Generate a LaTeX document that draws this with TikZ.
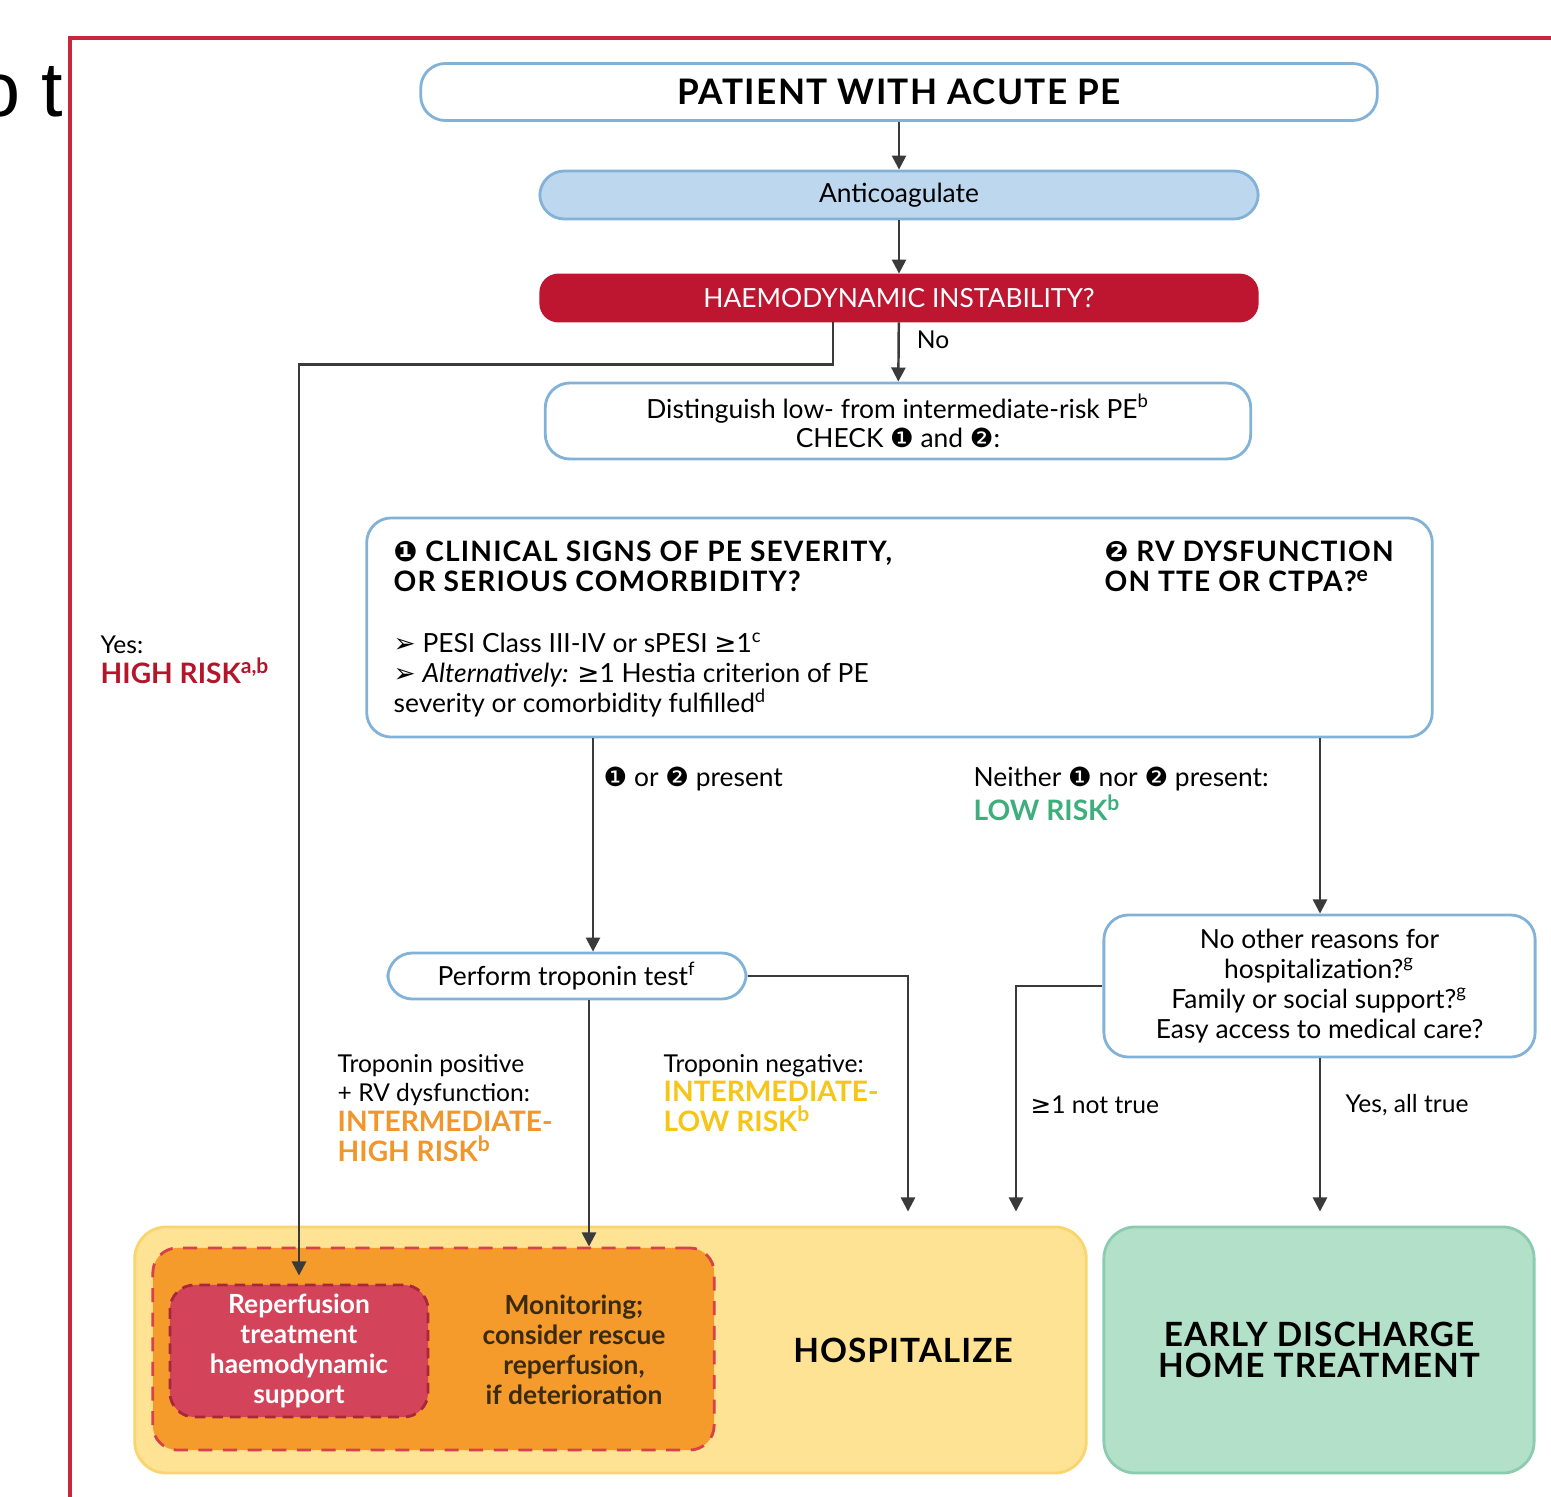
\documentclass[tikz,border=0pt]{standalone}
\usepackage{fontspec}
\setmainfont{Lato}
\newfontfamily\symfont{DejaVu Sans}
\newfontfamily\shotfont{Liberation Sans}
\usetikzlibrary{arrows.meta,positioning}

\definecolor{framered}{HTML}{C8283C}
\definecolor{boxblue}{HTML}{82B2D8}
\definecolor{lightblue}{HTML}{BDD7EE}
\definecolor{hired}{HTML}{BE1630}
\definecolor{riskred}{HTML}{B5152B}
\definecolor{lowgreen}{HTML}{3DAE7C}
\definecolor{intorange}{HTML}{F0962A}
\definecolor{intyellow}{HTML}{F5C518}
\definecolor{linegray}{HTML}{3A3A3A}
\definecolor{yellowfill}{HTML}{FDE393}
\definecolor{yellowline}{HTML}{F8D56E}
\definecolor{orangefill}{HTML}{F59B2B}
\definecolor{dashred}{HTML}{D8404A}
\definecolor{reperfred}{HTML}{D3435A}
\definecolor{darkdash}{HTML}{A8283A}
\definecolor{greenfill}{HTML}{B3E0C9}
\definecolor{greenline}{HTML}{8CCBB0}
\definecolor{darktext}{HTML}{3A2A10}

\newcommand{\numone}{{\symfont\char"2776}}
\newcommand{\numtwo}{{\symfont\char"2777}}
\newcommand{\pebul}{{\symfont\char"27A2}}
\newcommand{\pegeq}{{\symfont\char"2265}}
\newcommand{\titlesize}{\fontsize{10}{12}\selectfont\addfontfeature{LetterSpace=4}}
\newcommand{\boxsize}{\fontsize{7.5}{8.5}\selectfont}
\newcommand{\headsize}{\fontsize{8}{8.5}\selectfont}
\newcommand{\capsize}{\fontsize{8}{8.5}\selectfont\addfontfeature{LetterSpace=4}}
\newcommand{\labelsize}{\fontsize{7}{8.5}\selectfont}
\newcommand{\bigsize}{\fontsize{9.5}{8.6}\selectfont\addfontfeature{LetterSpace=3}}

\begin{document}
\begin{tikzpicture}[x=0.01cm, y=-0.01cm,
	box/.style={draw=boxblue, line width=0.8pt, rounded corners=7pt, align=center, inner sep=0pt},
	txt/.style={inner sep=0pt, align=left, anchor=west, font=\labelsize},
	conn/.style={draw=linegray, line width=0.7pt},
	arr/.style={conn, -{Triangle[length=4pt,width=4pt]}}]
		\useasboundingbox (0,0) rectangle (1551,1497);
		% cut-off screenshot text and frame
		\node[inner sep=0pt, anchor=base east, font=\shotfont\fontsize{22}{22}\selectfont] (cut) at (64,117) {o t};
		\draw[framered, line width=1.2pt] (70,1497) -- (70,38) -- (1551,38);
		
		% top of the flow
		\node[box, minimum width=9.56cm, minimum height=0.57cm, font=\bfseries\titlesize] (patient) at (899,92) {PATIENT WITH ACUTE PE};
		\node[box, fill=lightblue, minimum width=7.18cm, minimum height=0.48cm, font=\boxsize] (anticoag) at (899,195) {Anticoagulate};
		\node[box, draw=hired, fill=hired, text=white, rounded corners=5pt, minimum width=7.16cm, minimum height=0.46cm, font=\boxsize] (instab) at (899,298) {HAEMODYNAMIC INSTABILITY?};
		\node[box, minimum width=7.05cm, minimum height=0.76cm, font=\boxsize] (distinguish) at (898,421) {Distinguish low- from intermediate-risk PE\textsuperscript{b}\\ CHECK \numone{} and \numtwo:};
		\draw[arr] (patient) -- (anticoag);
		\draw[arr] (anticoag) -- (instab);
		\draw[arr] (instab) -- node[txt, pos=0.3, xshift=0.17cm] (no) {No} (distinguish);
		
		% criteria box
		\node[box, minimum width=10.65cm, minimum height=2.19cm] (signs) at (899.5,627.5) {};
		\node[txt, font=\bfseries\capsize] (signone) at (393,566) {\numone{} CLINICAL SIGNS OF PE SEVERITY,\\ OR SERIOUS COMORBIDITY?};
		\node[txt, font=\bfseries\capsize] (signtwo) at (1104,566) {\numtwo{} RV DYSFUNCTION\\ ON TTE OR CTPA?\textsuperscript{e}};
		\node[txt, font=\boxsize, align=left] (criteria) at (393,675) {\pebul{} PESI Class III-IV or sPESI \pegeq1\textsuperscript{c}\\ \pebul{} \textit{Alternatively:} \pegeq1 Hestia criterion of PE\\ severity or comorbidity fulfilled\textsuperscript{d}};
		
		% bottom boxes
		\node[box, draw=yellowline, fill=yellowfill, rounded corners=9pt, minimum width=9.51cm, minimum height=2.46cm] (hospital) at (610.5,1350) {};
		\node[box, draw=dashred, fill=orangefill, dash pattern=on 4pt off 3pt, minimum width=5.61cm, minimum height=2.02cm] (monit) at (433.5,1349) {};
		\node[box, draw=darkdash, fill=reperfred, dash pattern=on 3pt off 2pt, text=white, minimum width=2.58cm, minimum height=1.32cm, font=\bfseries\boxsize] (reperf) at (299,1351) {Reperfusion\\ treatment\\ haemodynamic\\ support};
		\node[txt, anchor=center, align=center, text=darktext, font=\bfseries\boxsize] (monittext) at (574,1350) {Monitoring;\\ consider rescue\\ reperfusion,\\ if deterioration};
		\node[inner sep=0pt, font=\bfseries\bigsize] (hosptext) at (903,1350) {HOSPITALIZE};
		\node[box, draw=greenline, fill=greenfill, rounded corners=9pt, minimum width=4.30cm, minimum height=2.46cm, font=\bfseries\bigsize] (home) at (1319,1350) {EARLY DISCHARGE\\ HOME TREATMENT};
		
		% high risk branch
		\draw[arr, shorten >=0.08cm] ([xshift=-0.66cm]instab.south) -- ++(0,42) -| (reperf.north);
		\node[txt] (highrisk) at (100,660) {Yes:\\ \textcolor{riskred}{\bfseries\headsize HIGH RISK\textsuperscript{a,b}}};
		
		% troponin branch
		\coordinate (leftrun) at (593,0);
		\coordinate (troprun) at (589,0);
		\coordinate (hosprun) at (908,0);
		\node[box, minimum width=3.58cm, minimum height=0.46cm, font=\boxsize] (trop) at (567,976) {Perform troponin test\textsuperscript{f}};
		\draw[arr] (signs.south -| leftrun) -- (trop.north -| leftrun);
		\node[txt, font=\boxsize] (present) at (603,779) {\numone{} or \numtwo{} present};
		\draw[arr] (trop.south -| troprun) -- (monit.north -| troprun);
		\draw[arr, shorten >=0.14cm] (trop.east) -| (hospital.north -| hosprun);
		\node[txt] (intehigh) at (337,1108) {Troponin positive\\ + RV dysfunction:\\ \textcolor{intorange}{\bfseries\headsize INTERMEDIATE-}\\ \textcolor{intorange}{\bfseries\headsize HIGH RISK\textsuperscript{b}}};
		\node[txt] (intelow) at (663,1093) {Troponin negative:\\ \textcolor{intyellow}{\bfseries\headsize INTERMEDIATE-}\\ \textcolor{intyellow}{\bfseries\headsize LOW RISK\textsuperscript{b}}};
		
		% low risk branch
		\coordinate (rightrun) at (1320,0);
		\coordinate (notrun) at (1016,0);
		\node[box, minimum width=4.31cm, minimum height=1.42cm, font=\boxsize] (reasons) at (1319.5,986) {No other reasons for\\ hospitalization?\textsuperscript{g}\\ Family or social support?\textsuperscript{g}\\ Easy access to medical care?};
		\draw[arr] (signs.south -| rightrun) -- (reasons.north -| rightrun);
		\node[txt, font=\boxsize] (neither) at (973,794) {Neither \numone{} nor \numtwo{} present:\\ \textcolor{lowgreen}{\bfseries\headsize LOW RISK\textsuperscript{b}}};
		\draw[arr, shorten >=0.14cm] (reasons.west) -| (hospital.north -| notrun);
		\draw[arr, shorten >=0.14cm] (reasons.south -| rightrun) -- (home.north -| rightrun);
		\node[txt] (nottrue) at (1030,1105) {\pegeq1 not true};
		\node[txt] (alltrue) at (1345,1105) {Yes, all true};
	\end{tikzpicture}
\end{document}
